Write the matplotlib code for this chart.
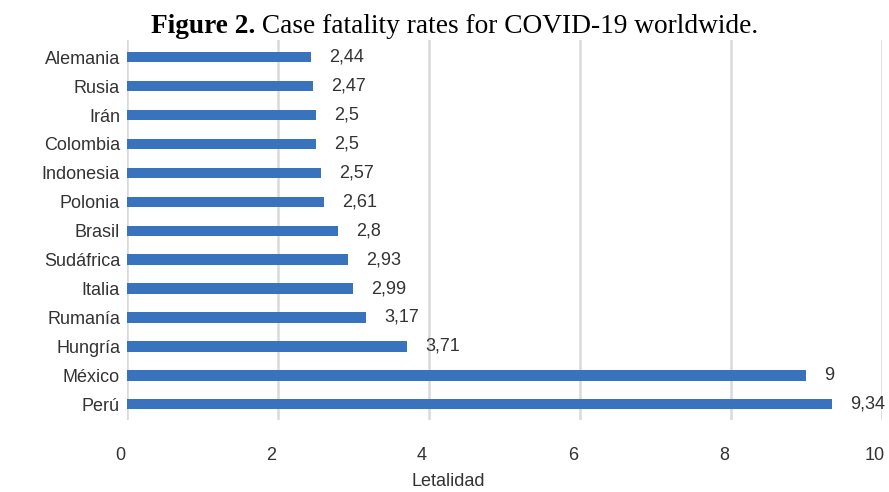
import matplotlib
matplotlib.use('Agg')
import matplotlib.pyplot as plt
import matplotlib.transforms as mtransforms

# data (top to bottom)
COUNTRIES = ['Alemania', 'Rusia', 'Irán', 'Colombia', 'Indonesia', 'Polonia', 'Brasil',
             'Sudáfrica', 'Italia', 'Rumanía', 'Hungría', 'México', 'Perú']
LETALIDAD = [2.44, 2.47, 2.5, 2.5, 2.57, 2.61, 2.8, 2.93, 2.99, 3.17, 3.71, 9.0, 9.34]
LABELS = ['2,44', '2,47', '2,5', '2,5', '2,57', '2,61', '2,8', '2,93', '2,99', '3,17',
          '3,71', '9', '9,34']
XTICKS = [0, 2, 4, 6, 8, 10]

BAR_COLOR = '#3a73bd'
TEXT_COLOR = '#333333'

plt.rcParams['font.family'] = ['Liberation Sans', 'DejaVu Sans']

fig = plt.figure(figsize=(8.89, 4.92), dpi=100)
ax = fig.add_axes([0.1429, 0.146, 0.849, 0.773])

pos = list(range(len(COUNTRIES)))
ax.barh(pos, LETALIDAD, height=0.36, color=BAR_COLOR, zorder=3)

for y, v, lab in zip(pos, LETALIDAD, LABELS):
    ax.text(v + 0.24, y, lab, va='center', ha='left', fontsize=13, color=TEXT_COLOR)

ax.set_xlim(0, 10)
ax.set_ylim(len(COUNTRIES) - 0.45, -0.6)
ax.set_yticks(pos)
ax.set_yticklabels(COUNTRIES, fontsize=13, color=TEXT_COLOR)
ax.set_xticks(XTICKS)
ax.set_xticklabels([str(t) for t in XTICKS], fontsize=13, color=TEXT_COLOR)
ax.tick_params(axis='both', length=0)
ax.tick_params(axis='y', pad=5)
ax.tick_params(axis='x', pad=19)
shift = mtransforms.ScaledTranslation(-7 / 100, 0, fig.dpi_scale_trans)
for lbl in ax.get_xticklabels():
    lbl.set_transform(lbl.get_transform() + shift)

ax.grid(axis='x', color='#d9d9d9', linewidth=1.8, zorder=0)
for s in ax.spines.values():
    s.set_visible(False)

fig.text(0.504, 0.022, 'Letalidad', fontsize=13, color=TEXT_COLOR, ha='center', va='center')

fig.text(0.287, 0.946, 'Figure 2.', fontsize=19.7, fontweight='bold', ha='right', va='center',
         family='Liberation Serif')
fig.text(0.287, 0.946, ' Case fatality rates for COVID-19 worldwide.', fontsize=19.7,
         ha='left', va='center', family='Liberation Serif')

fig.savefig('out.png', dpi=100)
